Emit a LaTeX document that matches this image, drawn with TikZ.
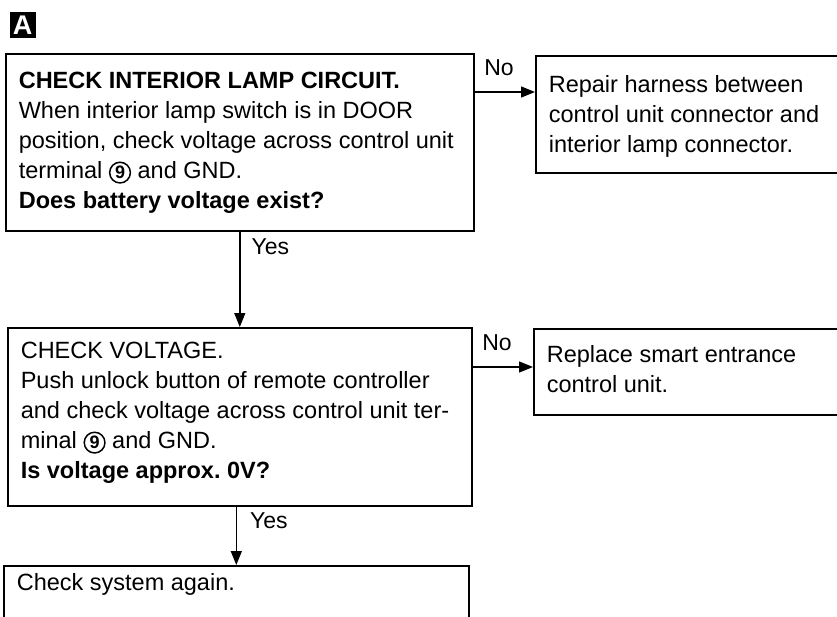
\documentclass[tikz,border=0pt]{standalone}
\usepackage{fontspec}
\setmainfont{Liberation Sans}
\usetikzlibrary{arrows.meta,positioning}

% text block of a step box: height, width, top gap, lines
\newcommand{\boxbody}[4]{\parbox[c][#1][t]{#2}{\vspace*{#3}\noindent\hspace*{13pt}\begin{tabular}[t]{@{}l@{}}#4\end{tabular}}}
% circled terminal number
\newcommand{\termno}[1]{\tikz[baseline=(tn.base)]\node[draw, circle, line width=1.5pt, inner sep=1.6pt, font=\bfseries\fontsize{18}{18}\selectfont] (tn) {#1};}

\begin{document}
\begin{tikzpicture}[x=1pt, y=-1pt,
    stepbox/.style={draw, rectangle, line width=1.6pt, anchor=north west, inner sep=0pt,
                    font=\fontsize{23.5}{30}\selectfont},
    flow/.style={-{Triangle[length=14pt,width=11pt]}, line width=1.4pt},
    lbl/.style={inner sep=0pt, anchor=base west, font=\fontsize{23}{25}\selectfont},
    tag/.style={fill=black, text=white, minimum size=26pt, inner sep=0pt, font=\bfseries\fontsize{27}{27}\selectfont}]

\useasboundingbox (0,0) rectangle (837,616);
\clip (0,0) rectangle (837,616);

\node[tag] (sec) at (22.5,25) {A};

% Steps
\node[stepbox] (check1) at (5,53) {\boxbody{177pt}{468pt}{14pt}{%
  \textbf{CHECK INTERIOR LAMP CIRCUIT.}\\
  When interior lamp switch is in DOOR\\
  position, check voltage across control unit\\
  terminal \termno{9} and GND.\\
  \textbf{Does battery voltage exist?}}};
\node[stepbox] (fix1) at (535,55) {\boxbody{117pt}{330pt}{16pt}{%
  Repair harness between\\
  control unit connector and\\
  interior lamp connector.}};
\node[stepbox] (check2) at (7,327) {\boxbody{178pt}{464pt}{10pt}{%
  CHECK VOLTAGE.\\
  Push unlock button of remote controller\\
  and check voltage across control unit ter-\\
  minal \termno{9} and GND.\\
  \textbf{Is voltage approx.\ 0V?}}};
\node[stepbox] (fix2) at (533,328) {\boxbody{86pt}{330pt}{13pt}{%
  Replace smart entrance\\
  control unit.}};
\node[stepbox] (done) at (3,565) {\boxbody{90pt}{465pt}{4pt}{%
  Check system again.}};

% Connectors
\draw[flow] ([yshift=-39pt]check1.north east)
  node[lbl, xshift=9pt, yshift=17pt] {No} -- ([yshift=-37pt]fix1.north west);
\draw[flow] (check1.south)
  node[lbl, xshift=11pt, yshift=-23pt] {Yes} -- (check2.north);
\draw[flow] ([yshift=-40pt]check2.north east)
  node[lbl, xshift=9pt, yshift=17pt] {No} -- ([yshift=-39pt]fix2.north west);
\draw[flow] (check2.south -| done.north)
  node[lbl, xshift=13pt, yshift=-22pt] {Yes} -- (done.north);
\end{tikzpicture}
\end{document}
